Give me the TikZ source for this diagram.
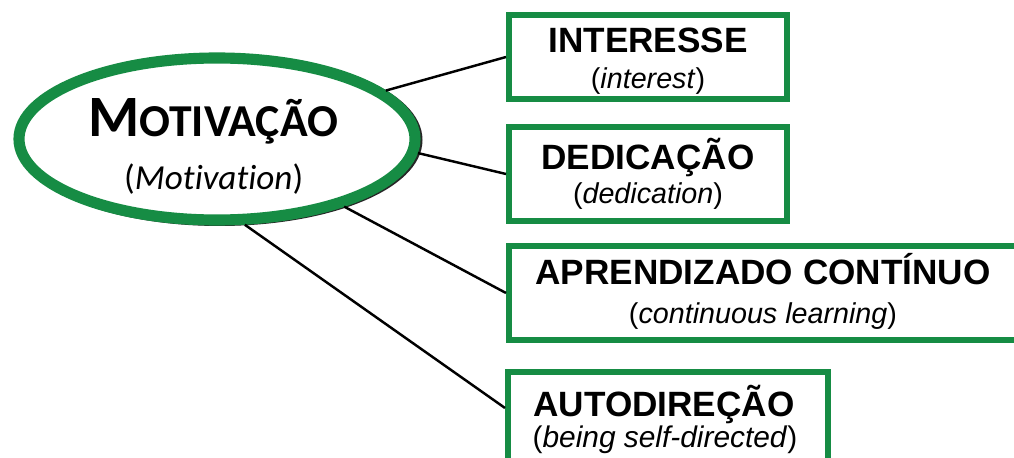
\documentclass[tikz,border=0pt]{standalone}
\usepackage{fontspec}
\setmainfont{Liberation Sans}
\newfontfamily\calfont[Ligatures=NoCommon]{Carlito}
\usetikzlibrary{shapes.geometric,calc}
\definecolor{mgreen}{RGB}{22,140,68}
\tikzset{
  pxbox/.style={draw=mgreen, line width=5.1pt, fill=white, rectangle, inner sep=0pt},
  title/.style={anchor=base, inner sep=0pt, font=\fontsize{30}{30}\selectfont\bfseries},
  sub/.style={anchor=base, inner sep=0pt, font=\fontsize{24.5}{24.5}\selectfont},
  conn/.style={line width=2.1pt, black},
}
\begin{document}
\begin{tikzpicture}[x=0.03cm, y=-0.03cm]
\path[use as bounding box, clip] (0,0) rectangle (1014,458);
\fill[white] (0,0) rectangle (1014,458);
% boxes
\node[pxbox, minimum width=8.34cm, minimum height=2.52cm] (b1) at (648,57) {};
\node[pxbox, minimum width=8.34cm, minimum height=2.82cm] (b2) at (648,174) {};
\node[pxbox, minimum width=15.24cm, minimum height=2.82cm] (b3) at (763,293) {};
\node[pxbox, minimum width=9.60cm, minimum height=2.82cm] (b4) at (668,419) {};
\node[title] (t1) at (648,53) {INTERESSE};
\node[sub] (s1) at (648,89) {(\textit{interest})};
\node[title] (t2) at (648,170) {DEDICAÇÃO};
\node[sub] (s2) at (648,204) {(\textit{dedication})};
\node[title] (t3) at (763,285) {APRENDIZADO CONTÍNUO};
\node[sub] (s3) at (763,324) {(\textit{continuous learning})};
\node[title] (t4) at (664,416) {AUTODIREÇÃO};
\node[sub, font=\fontsize{25.5}{25.5}\selectfont] (s4) at (665,447) {(\textit{being self-directed})};
% ellipse with shadow
\node[ellipse, draw=black!85, line width=8.5pt, minimum width=11.88cm, minimum height=4.86cm, inner sep=0pt] (sh) at (219.5,140) {};
\node[ellipse, draw=mgreen, fill=white, line width=9.5pt, minimum width=11.88cm, minimum height=4.86cm, inner sep=0pt] (ell) at (217,139) {};
\node[anchor=base west, inner sep=0pt, font=\calfont\bfseries] (mt) at (88,137) {\fontsize{50}{50}\selectfont M\fontsize{39}{39}\selectfont OTIVAÇÃO};
\node[anchor=base west, inner sep=0pt, font=\calfont\fontsize{30}{30}\selectfont] (ms) at (124,190) {(\textit{Motivation})};
% connectors
\draw[conn] (ell.16) -- (b1.west);
\draw[conn] (ell.-4) -- (b2.west);
\draw[conn] (ell.-28) -- (b3.west);
\draw[conn] (ell.-72) -- ($(b4.west)+(0,-11)$);
\end{tikzpicture}
\end{document}
